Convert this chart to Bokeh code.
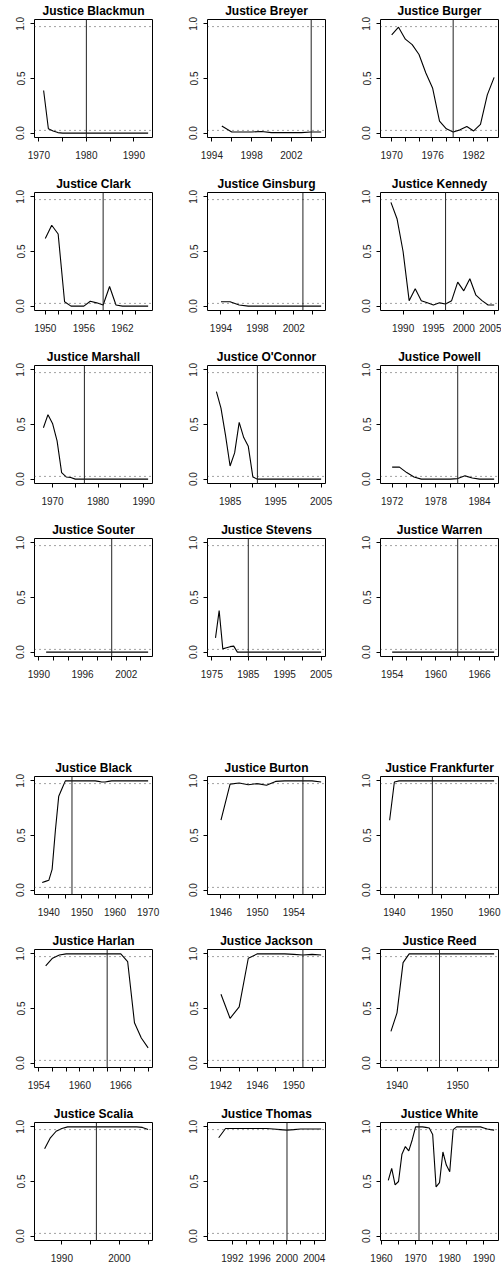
from bokeh.plotting import figure
from bokeh.models import FixedTicker, Range1d, Span
from bokeh.layouts import row, column
from bokeh.embed import file_html
from bokeh.resources import INLINE

# ---------------- data ----------------
justices = ["Blackmun", "Breyer", "Burger", "Clark", "Ginsburg", "Kennedy",
            "Marshall", "O'Connor", "Powell", "Souter", "Stevens", "Warren",
            "Black", "Burton", "Frankfurter", "Harlan", "Jackson", "Reed",
            "Scalia", "Thomas", "White"]

range_start = [1970, 1994, 1969, 1949, 1993, 1987, 1967, 1981, 1971, 1990, 1975, 1953,
               1937, 1945, 1938, 1954, 1941, 1938, 1986, 1989, 1961]
range_end = [1993, 2005, 1985, 1966, 2005, 2005, 1991, 2005, 1986, 2005, 2005, 1968,
             1970, 1957, 1961, 1970, 1953, 1956, 2005, 2005, 1993]
first_year = [1971, 1995, 1970, 1950, 1994, 1988, 1968, 1982, 1972, 1991, 1976, 1954,
              1938, 1946, 1939, 1955, 1942, 1939, 1987, 1990, 1962]
vline_year = [1980, 2004, 1979, 1959, 2003, 1997, 1977, 1991, 1981, 2000, 1985, 1963,
              1947, 1955, 1948, 1964, 1951, 1947, 1996, 2000, 1971]

blackmun = [0.39, 0.04, 0.02, 0.005, 0.0, 0.0, 0.0, 0.0, 0.0, 0.0, 0.0, 0.0, 0.0, 0.0,
            0.0, 0.0, 0.0, 0.0, 0.0, 0.0, 0.0, 0.0, 0.0]
breyer = [0.065, 0.01, 0.01, 0.01, 0.015, 0.005, 0.005, 0.005, 0.005, 0.01, 0.01]
burger = [0.90, 0.97, 0.86, 0.81, 0.72, 0.55, 0.41, 0.11, 0.04, 0.01, 0.03, 0.06, 0.02,
          0.08, 0.35, 0.51]
clark = [0.62, 0.74, 0.66, 0.04, 0.0, 0.0, 0.0, 0.045, 0.03, 0.01, 0.18, 0.01, 0.0, 0.0,
         0.0, 0.0, 0.0]
ginsburg = [0.04, 0.04, 0.01, 0.0, 0.0, 0.0, 0.0, 0.0, 0.0, 0.0, 0.0, 0.0]
kennedy = [0.95, 0.80, 0.50, 0.05, 0.16, 0.05, 0.03, 0.01, 0.03, 0.02, 0.05, 0.22, 0.14,
           0.25, 0.10, 0.05, 0.01, 0.01]
marshall = [0.47, 0.59, 0.51, 0.35, 0.06, 0.02, 0.015, 0.0, 0.0, 0.0, 0.0, 0.0, 0.0, 0.0,
            0.0, 0.0, 0.0, 0.0, 0.0, 0.0, 0.0, 0.0, 0.0, 0.0]
oconnor = [0.80, 0.65, 0.40, 0.12, 0.24, 0.52, 0.38, 0.30, 0.02, 0.0, 0.0, 0.0, 0.0, 0.0,
           0.0, 0.0, 0.0, 0.0, 0.0, 0.0, 0.0, 0.0, 0.0, 0.0]
powell = [0.11, 0.11, 0.06, 0.02, 0.0, 0.0, 0.0, 0.0, 0.0, 0.005, 0.03, 0.01, 0.0, 0.0, 0.0]
souter = [0.0, 0.0, 0.0, 0.0, 0.0, 0.0, 0.0, 0.0, 0.0, 0.0, 0.0, 0.0, 0.0, 0.0, 0.0]
stevens = [0.13, 0.38, 0.03, 0.04, 0.05, 0.055, 0.0, 0.0, 0.0, 0.0, 0.0, 0.0, 0.0, 0.0,
           0.0, 0.0, 0.0, 0.0, 0.0, 0.0, 0.0, 0.0, 0.0, 0.0, 0.0, 0.0, 0.0, 0.0, 0.0, 0.0]
warren = [0.0, 0.0, 0.0, 0.0, 0.0, 0.0, 0.0, 0.0, 0.0, 0.0, 0.0, 0.0, 0.0, 0.0, 0.0]
black = [0.07, 0.08, 0.09, 0.19, 0.55, 0.86, 0.93, 1.0, 1.0, 1.0, 1.0, 1.0, 1.0, 1.0,
         1.0, 1.0, 1.0, 0.995, 0.99, 0.99, 0.995, 1.0, 1.0, 1.0, 1.0, 1.0, 1.0, 1.0,
         1.0, 1.0, 1.0, 1.0, 1.0]
burton = [0.64, 0.97, 0.98, 0.965, 0.975, 0.96, 0.995, 1.0, 1.0, 1.0, 1.0, 0.99]
frankfurter = [0.64, 0.99, 1.0, 1.0, 1.0, 1.0, 1.0, 1.0, 1.0, 1.0, 1.0, 1.0, 1.0, 1.0,
               1.0, 1.0, 1.0, 1.0, 1.0, 1.0, 1.0, 1.0, 1.0]
harlan = [0.89, 0.96, 0.99, 1.0, 1.0, 1.0, 1.0, 1.0, 1.0, 1.0, 1.0, 1.0, 0.93, 0.37,
          0.23, 0.14]
jackson = [0.63, 0.41, 0.515, 0.96, 1.0, 1.0, 1.0, 1.0, 0.995, 0.99, 0.995, 0.99]
reed = [0.29, 0.46, 0.92, 1.0, 1.0, 1.0, 1.0, 1.0, 1.0, 1.0, 1.0, 1.0, 1.0, 1.0, 1.0,
        1.0, 1.0, 1.0]
scalia = [0.80, 0.90, 0.96, 0.985, 1.0, 1.0, 1.0, 1.0, 1.0, 1.0, 1.0, 1.0, 1.0, 1.0,
          1.0, 1.0, 1.0, 0.995, 0.976]
thomas = [0.90, 0.985, 0.985, 0.985, 0.985, 0.985, 0.985, 0.985, 0.98, 0.975, 0.97,
          0.975, 0.98, 0.98, 0.98, 0.98]
white = [0.51, 0.62, 0.47, 0.50, 0.75, 0.82, 0.78, 0.88, 1.0, 1.0, 1.0, 0.995, 0.99,
         0.93, 0.45, 0.49, 0.77, 0.65, 0.59, 0.975, 1.0, 1.0, 1.0, 1.0, 1.0, 1.0, 1.0,
         1.0, 0.99, 0.98, 0.975, 0.97]

series = [blackmun, breyer, burger, clark, ginsburg, kennedy, marshall, oconnor, powell,
          souter, stevens, warren, black, burton, frankfurter, harlan, jackson, reed,
          scalia, thomas, white]

tick_years = [
    [1970, 1975, 1980, 1985, 1990],
    [1994, 1996, 1998, 2000, 2002, 2004],
    [1970, 1972, 1974, 1976, 1978, 1980, 1982, 1984],
    [1950, 1952, 1954, 1956, 1958, 1960, 1962, 1964],
    [1994, 1996, 1998, 2000, 2002, 2004],
    [1990, 1995, 2000, 2005],
    [1970, 1975, 1980, 1985, 1990],
    [1985, 1990, 1995, 2000, 2005],
    [1972, 1974, 1976, 1978, 1980, 1982, 1984, 1986],
    [1990, 1992, 1994, 1996, 1998, 2000, 2002, 2004],
    [1975, 1980, 1985, 1990, 1995, 2000, 2005],
    [1954, 1956, 1958, 1960, 1962, 1964, 1966, 1968],
    [1940, 1945, 1950, 1955, 1960, 1965, 1970],
    [1946, 1948, 1950, 1952, 1954, 1956],
    [1940, 1945, 1950, 1955, 1960],
    [1954, 1956, 1958, 1960, 1962, 1964, 1966, 1968, 1970],
    [1942, 1944, 1946, 1948, 1950, 1952],
    [1940, 1945, 1950, 1955],
    [1990, 1995, 2000, 2005],
    [1992, 1994, 1996, 1998, 2000, 2002, 2004],
    [1960, 1965, 1970, 1975, 1980, 1985, 1990],
]
tick_labels = [
    [1970, 1980, 1990], [1994, 1998, 2002], [1970, 1976, 1982],
    [1950, 1956, 1962], [1994, 1998, 2002], [1990, 1995, 2000, 2005],
    [1970, 1980, 1990], [1985, 1995, 2005], [1972, 1978, 1984],
    [1990, 1996, 2002], [1975, 1985, 1995, 2005], [1954, 1960, 1966],
    [1940, 1950, 1960, 1970], [1946, 1950, 1954], [1940, 1950, 1960],
    [1954, 1960, 1966], [1942, 1946, 1950], [1940, 1950],
    [1990, 2000], [1992, 1996, 2000, 2004], [1960, 1970, 1980, 1990],
]
y_ticks = [0.0, 0.5, 1.0]
y_tick_labels = ["0.0", "0.5", "1.0"]
band_low, band_high = 0.025, 0.975

# ---------------- layout ----------------
FONT = "Liberation Sans"
FRAME = 118
col_width = [173, 173, 155]
col_border_left = [34, 34, 34]
col_border_right = [21, 21, 3]
row_border_top = [19, 19, 19, 19, 19, 19, 19]
row_border_bottom = [36, 36, 36, 101, 36, 36, 25]


def make_panel(i, r, c):
    x0, x1 = range_start[i], range_end[i]
    pad = 0.04 * (x1 - x0)
    p = figure(width=col_width[c], height=row_border_top[r] + FRAME + row_border_bottom[r],
               min_border_left=col_border_left[c], min_border_right=col_border_right[c],
               min_border_top=row_border_top[r], min_border_bottom=row_border_bottom[r],
               x_range=Range1d(x0 - pad, x1 + pad), y_range=Range1d(-0.04, 1.04),
               title="Justice " + justices[i],
               output_backend="svg", toolbar_location=None)
    p.title.text_font = FONT
    p.title.text_font_size = "12px"
    p.title.text_font_style = "bold"
    p.title.text_color = "black"
    p.title.align = "center"
    p.title.standoff = 3
    p.grid.visible = False
    p.outline_line_color = "black"
    p.outline_line_width = 1
    p.background_fill_color = "white"
    p.border_fill_color = "white"

    ys = list(range(first_year[i], first_year[i] + len(series[i])))
    p.line(ys, series[i], line_color="black", line_width=1.1)

    for loc in (band_low, band_high):
        p.add_layout(Span(location=loc, dimension="width", line_color="#444444",
                          line_width=1, line_dash="1 4"))
    p.add_layout(Span(location=vline_year[i], dimension="height", line_color="#222222",
                      line_width=1))

    xa = p.xaxis[0]
    xa.ticker = FixedTicker(ticks=tick_years[i], minor_ticks=[])
    xa.major_label_overrides = {t: (str(t) if t in tick_labels[i] else "")
                                for t in tick_years[i]}
    ya = p.yaxis[0]
    ya.ticker = FixedTicker(ticks=y_ticks, minor_ticks=[])
    ya.major_label_overrides = {t: s for t, s in zip(y_ticks, y_tick_labels)}
    ya.major_label_orientation = "vertical"
    for ax in (xa, ya):
        ax.axis_line_color = None
        ax.major_tick_out = 4
        ax.major_tick_in = 0
        ax.major_tick_line_color = "black"
        ax.minor_tick_out = 0
        ax.minor_tick_in = 0
        ax.major_label_text_font = FONT
        ax.major_label_text_font_size = "10px"
        ax.major_label_text_color = "#222222"
    xa.major_label_standoff = 9
    ya.major_label_standoff = 6
    return p


rows = []
for r in range(7):
    figs = [make_panel(r * 3 + c, r, c) for c in range(3)]
    rows.append(row(*figs))

layout = column(*rows)
open("out.html", "w").write(file_html(layout, INLINE))
